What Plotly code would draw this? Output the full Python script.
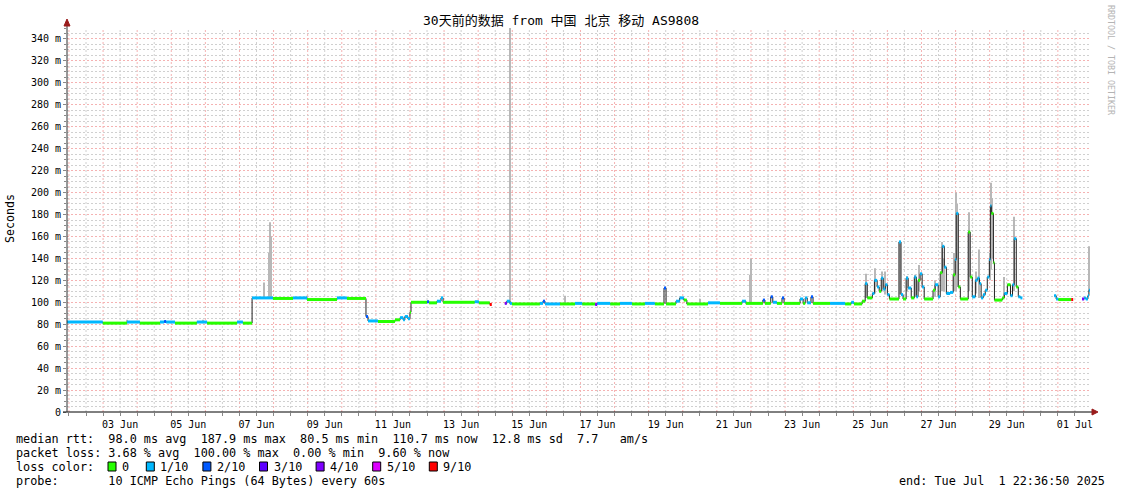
import pandas as pd
import plotly.graph_objects as go

# ---------------- data ----------------
# time as fractional day-of-June (31.0 = 01 Jul 00:00), median RTT (ms), loss level index
med_day = [1.94, 2.99, 3.70, 4.08, 4.67, 4.79, 4.85, 5.11, 5.75, 6.05, 6.93, 7.10,
           7.37, 7.98, 8.57, 8.98, 9.86, 10.15, 10.71, 10.77,
           11.06, 11.56, 11.71, 11.80, 11.85, 11.94, 12.00, 12.03,
           12.50, 12.56, 12.79, 12.91, 12.97, 13.90, 14.02, 14.34, 14.40,
           14.78, 14.84, 14.93, 14.99, 15.81, 15.90, 15.96, 16.40, 16.84, 17.05, 17.43, 17.49,
           17.87, 18.16, 18.51, 18.89, 19.18, 19.45, 19.51, 19.80, 19.91, 20.03, 20.12, 20.74,
           21.09, 21.74, 21.85, 22.35, 22.41, 22.58, 22.64, 22.76, 22.91, 22.97, 23.44, 23.53,
           23.59, 23.65, 23.76, 23.82, 24.32, 24.76, 24.94, 25.02,
           25.26, 25.35, 25.41, 25.56, 25.62, 25.70, 25.76, 25.82, 25.88, 25.94, 26.00, 26.06,
           26.34, 26.40, 26.46, 26.55, 26.61, 26.70, 26.79, 26.85, 26.90, 26.96, 27.02, 27.08,
           27.34, 27.40, 27.49, 27.55, 27.61, 27.67, 27.73, 27.84, 27.93, 27.99, 28.02, 28.08,
           28.14, 28.37, 28.43, 28.49, 28.58, 28.64, 28.70, 28.75, 28.81, 28.87, 28.93, 28.99,
           29.02, 29.05, 29.11, 29.14, 29.37, 29.43, 29.52, 29.61, 29.67, 29.72, 29.78, 29.84,
           29.90, 29.96,
           30.89, 30.95, 31.01, 31.39, 31.45,
           31.71, 31.77, 31.82, 31.88, 31.91, 31.94]
med_ms = [82, 81, 82, 81, 82, 82.5, 82, 81, 82, 81, 82, 81,
          104, 103.5, 104, 102.5, 104, 103.5, 87, 83,
          82.5, 84, 86, 84, 87, 85, 91, 100,
          100.5, 99.5, 101, 104, 100, 100.5, 99.5, 98, None,
          99, 101, 99, 98.5, 99, 101, 98.5, 98.5, 99, 98.5, 98, 99,
          98.5, 99, 98.5, 99, 98.5, 113, 98.5, 101, 104, 102, 98.5, 99.5,
          99, 101, 99, 102, 99, 105, 100, 99, 104, 99, 103, 99,
          104, 99.5, 105, 99, 99, 98.5, 100, 98.5,
          101, 117, 104, 108, 120, 114, 110, 122, 112, 116, 107, 103,
          155, 107, 103, 122, 113, 104, 123, 105, 120, 126, 114, 103,
          111, 116, 105, 127, 151, 132, 108, 109, 125, 139, 181, 114,
          103, 164, 123, 105, 120, 122, 117, 104, 107, 111, 123, 139,
          188, 181, 136, 102, 104, 108, 116, 106, 116, 158, 114, 105,
          104, None,
          106, 103, 102.5, 102.5, None,
          103, 104, 103, 106, 111, 111]
med_loss = [1, 0, 1, 0, 1, 2, 1, 0, 1, 0, 1, 0,
            1, 0, 1, 0, 1, 0, 2, 1,
            0, 0, 1, 1, 1, 1, 0, 0,
            2, 0, 1, 1, 0, 1, 0, 6, 0,
            4, 1, 1, 0, 1, 2, 1, 0, 1, 0, 4, 1,
            0, 1, 0, 1, 0, 2, 0, 1, 1, 0, 0, 1,
            0, 1, 0, 2, 0, 2, 1, 0, 2, 0, 1, 0,
            1, 1, 2, 0, 1, 0, 1, 0,
            0, 1, 0, 1, 1, 1, 0, 1, 1, 1, 1, 0,
            1, 1, 0, 1, 1, 0, 1, 1, 0, 1, 1, 0,
            0, 1, 1, 0, 1, 1, 1, 1, 0, 1, 1, 0,
            0, 0, 0, 1, 1, 1, 1, 1, 1, 1, 1, 1,
            1, 0, 0, 0, 0, 1, 0, 1, 1, 1, 0, 1,
            1, 0,
            1, 1, 0, 6, 0,
            4, 1, 1, 1, 1, 1]

# smoke (spread of the 10 pings): time, lowest and highest RTT (ms)
smoke_day = [3.70, 5.93, 7.72, 7.86, 7.90, 7.93, 8.98, 14.93, 16.55, 20.50, 21.97, 22.00,
             25.37, 25.64, 25.85, 25.94, 26.37, 26.58, 26.82, 26.93, 27.40, 27.61, 27.67,
             27.96, 28.02, 28.05, 28.40, 28.61, 28.70, 29.02, 29.05, 29.08, 29.43, 29.72, 31.91]
smoke_lo = [81, 81, 104, 104, 104, 104, 103, 99, 99, 99, 99, 99,
            104, 108, 110, 107, 107, 110, 105, 110, 105, 110, 110,
            110, 110, 114, 110, 108, 104, 120, 130, 140, 105, 110, 111]
smoke_hi = [84, 84, 118, 145, 173, 160, 106, 350, 106, 103, 125, 140,
            126, 131, 128, 128, 156, 124, 125, 134, 120, 155, 140,
            145, 200, 190, 182, 128, 148, 145, 209, 195, 123, 178, 151]

loss_labels = ["0", "1/10", "2/10", "3/10", "4/10", "5/10", "9/10"]
loss_colors = ["#26ff00", "#00b8ff", "#0059ff", "#5e00ff", "#7e00ff", "#dd00ff", "#ff0000"]

y_tick_vals = list(range(0, 341, 20))
y_tick_text = ["0"] + [f"{v} m" for v in y_tick_vals[1:]]
y_minor_vals = [v for v in range(0, 351, 5) if v % 20]
x_label_days = [3.5, 5.5, 7.5, 9.5, 11.5, 13.5, 15.5, 17.5, 19.5, 21.5, 23.5, 25.5, 27.5, 29.5, 31.5]
x_label_text = ["03 Jun", "05 Jun", "07 Jun", "09 Jun", "11 Jun", "13 Jun", "15 Jun", "17 Jun",
                "19 Jun", "21 Jun", "23 Jun", "25 Jun", "27 Jun", "29 Jun", "01 Jul"]

title_text = "30天前的数据 from 中国 北京 移动 AS9808"
legend_rtt = "median rtt:  98.0 ms avg  187.9 ms max  80.5 ms min  110.7 ms now  12.8 ms sd  7.7   am/s"
legend_loss = "packet loss: 3.68 % avg  100.00 % max  0.00 % min  9.60 % now"
legend_color = "loss color:"
legend_probe = "probe:       10 ICMP Echo Pings (64 Bytes) every 60s"
end_text = "end: Tue Jul  1 22:36:50 2025"
watermark = "RRDTOOL / TOBI OETIKER"

# ---------------- helpers ----------------
BASE = pd.Timestamp("2025-05-31")
START_DAY = 1 + (22 * 3600 + 36 * 60 + 50) / 86400
END_DAY = START_DAY + 30

def ts(d):
    return BASE + pd.to_timedelta(d, unit="D")

W, H = 1121, 494
L, R, T, B = 67, 31, 28, 82
PW, PH = W - L - R, H - T - B

def px(x):
    return (x - L) / PW

def py(y):
    return (H - B - y) / PH

FONT = "DejaVu Sans Mono, Noto Sans CJK SC, monospace"
NB = "\u00a0"
MAJOR_GRID = "#f5b2b2"
MINOR_GRID = "#d0d0d0"
MAJOR_DASH = "2px,2px"
MINOR_DASH = "2px,2px"

fig = go.Figure()

# smoke
px_ms = 30 * 86400000 / PW
fig.add_trace(go.Bar(
    x=[ts(d) for d in smoke_day],
    base=smoke_lo,
    y=[h - l for h, l in zip(smoke_hi, smoke_lo)],
    width=[px_ms * 1.1] * len(smoke_day),
    marker=dict(color="#b8b8b8", line=dict(width=0)),
    hoverinfo="skip",
))

# median line
fig.add_trace(go.Scatter(
    x=[ts(d) for d in med_day], y=med_ms, mode="lines",
    line=dict(color="#202020", width=1, shape="hv"),
    connectgaps=False, hoverinfo="skip",
))

# loss-coloured bands on the median
for lvl, col in enumerate(loss_colors):
    xs, ys = [], []
    for i in range(len(med_day) - 1):
        v = med_ms[i]
        if v is None or med_loss[i] != lvl:
            continue
        xs += [ts(med_day[i]), ts(med_day[i + 1]), None]
        ys += [v, v, None]
    if xs:
        fig.add_trace(go.Scatter(x=xs, y=ys, mode="lines",
                                 line=dict(color=col, width=3),
                                 connectgaps=False, hoverinfo="skip"))

shapes = []
# vertical grid: midnight (major, red) and noon (minor, grey)
t = pd.Timestamp("2025-06-02 00:00")
while t <= ts(END_DAY):
    major = t.hour == 0
    shapes.append(dict(type="line", xref="x", yref="y", x0=t, x1=t, y0=0, y1=350,
                       line=dict(color=MAJOR_GRID if major else MINOR_GRID,
                                 width=1, dash=MAJOR_DASH if major else MINOR_DASH),
                       layer="below"))
    t += pd.Timedelta(hours=12)

AX = "#303030"
ARROW = "#9a1c1c"
# axes and arrows
shapes.append(dict(type="line", xref="paper", yref="paper", x0=px(63), x1=px(1092), y0=0, y1=0,
                   line=dict(color="#000000", width=1)))
shapes.append(dict(type="line", xref="paper", yref="paper", x0=0, x1=0, y0=0, y1=py(24),
                   line=dict(color=AX, width=1)))
shapes.append(dict(type="path", xref="paper", yref="paper",
                   path=f"M {px(64)},{py(26)} L {px(67)},{py(19)} L {px(70)},{py(26)} Z",
                   fillcolor=ARROW, line=dict(color=ARROW, width=1)))
shapes.append(dict(type="path", xref="paper", yref="paper",
                   path=f"M {px(1092)},{py(409)} L {px(1098)},{py(412)} L {px(1092)},{py(415)} Z",
                   fillcolor=ARROW, line=dict(color=ARROW, width=1)))

annotations = []
def text(x, y, s, size=11.8, anchor="left", angle=0, color="#000000"):
    annotations.append(dict(x=px(x), y=py(y), xref="paper", yref="paper", text=s.replace(" ", NB),
                            showarrow=False, xanchor=anchor, yanchor="middle", textangle=angle,
                            font=dict(family=FONT, size=size, color=color), borderpad=0))

text(560.5, 21, title_text, size=13, anchor="center")
text(10, 219, "Seconds", size=11.6, anchor="center", angle=-90)
text(1111, 60, watermark, size=8.3, anchor="center", angle=90, color="#b4b4b4")
ROWS = [439, 453, 467, 481]
text(15, ROWS[0], legend_rtt)
text(15, ROWS[1], legend_loss)
text(15, ROWS[2], legend_color)
text(15, ROWS[3], legend_probe)
text(1106, ROWS[3], end_text, anchor="right")

# loss colour swatches
CW = 7.1
bx = 108
for lab, col in zip(loss_labels, loss_colors):
    shapes.append(dict(type="rect", xref="paper", yref="paper",
                       x0=px(bx), x1=px(bx + 8), y0=py(ROWS[2] - 5), y1=py(ROWS[2] + 4),
                       fillcolor=col, line=dict(color="#000000", width=1)))
    text(bx + 13, ROWS[2], lab)
    bx += 14 + CW * (len(lab) + 2) + (3 if len(lab) == 1 else 0)

fig.update_layout(
    width=W, height=H, margin=dict(l=L, r=R, t=T, b=B, pad=0),
    plot_bgcolor="rgba(0,0,0,0)", paper_bgcolor="white", showlegend=False, barmode="overlay",
    font=dict(family=FONT, size=10, color="#000000"),
    shapes=shapes, annotations=annotations,
    xaxis=dict(type="date", range=[ts(START_DAY), ts(END_DAY)],
               tickmode="array", tickvals=[ts(d) for d in x_label_days], ticktext=x_label_text,
               ticks="", showgrid=False, zeroline=False, showline=False,
               tickfont=dict(family=FONT, size=10), ticklabelstandoff=5,
               minor=dict(tickmode="linear", tick0=ts(2.0), dtick=43200000,
                          ticks="outside", ticklen=3, tickcolor="#888888", showgrid=False)),
    yaxis=dict(range=[0, 350], tickmode="array", tickvals=y_tick_vals, ticktext=y_tick_text,
               ticks="outside", ticklen=3, tickcolor="#888888",
               showgrid=True, gridcolor=MAJOR_GRID, griddash=MAJOR_DASH, gridwidth=1,
               zeroline=False, showline=False, tickfont=dict(family=FONT, size=10),
               minor=dict(tickmode="array", tickvals=y_minor_vals, ticks="outside", ticklen=2,
                          tickcolor="#888888", showgrid=True, gridcolor=MINOR_GRID,
                          griddash=MINOR_DASH)),
)

fig.write_html("out.html", config={"displayModeBar": False},
               post_script="document.body.style.margin='0';")
